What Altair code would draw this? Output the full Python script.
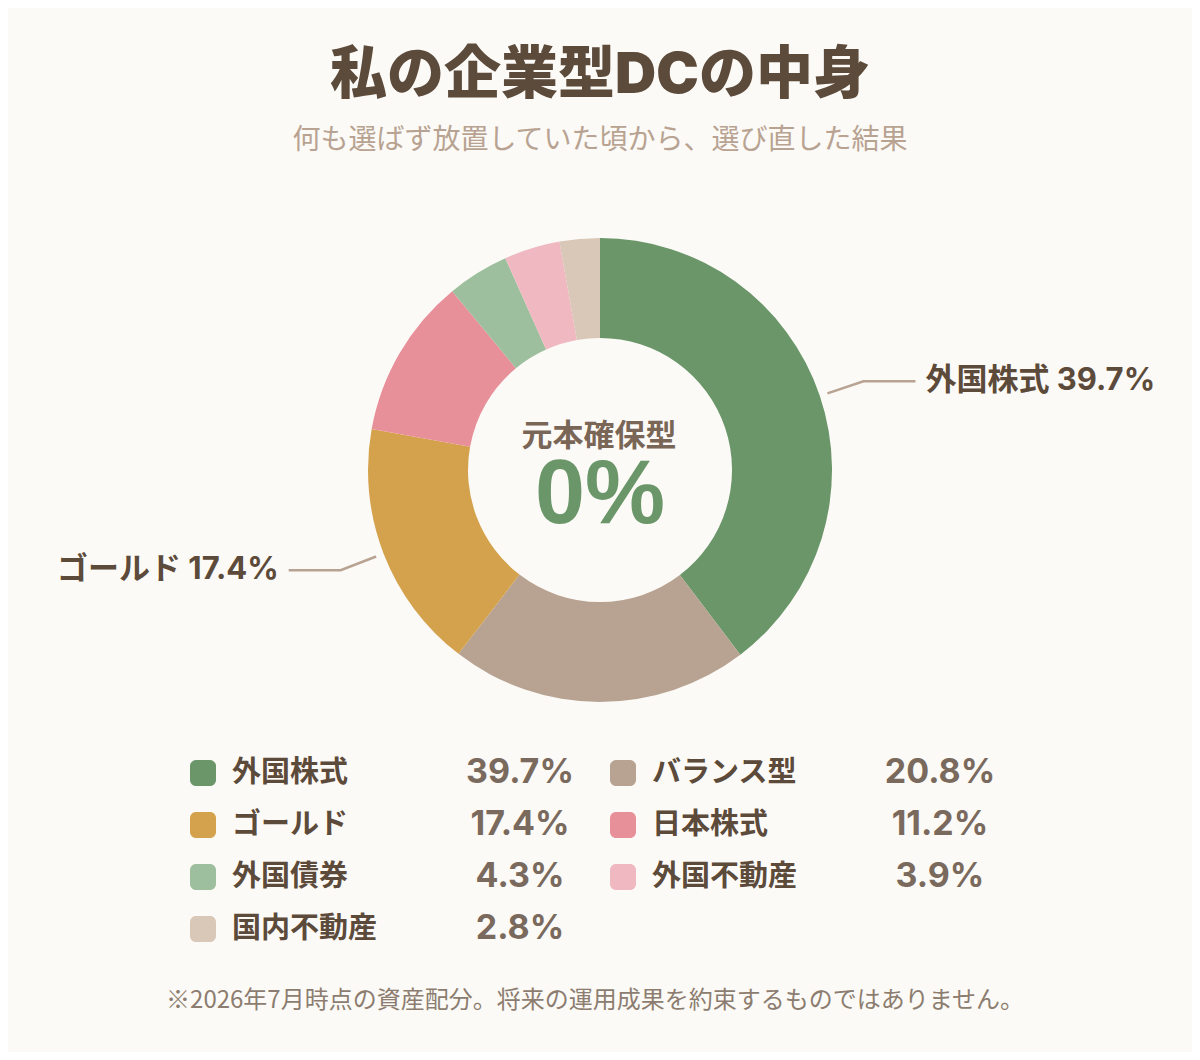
"""Donut chart: asset mix of my corporate DC plan."""
import math

import altair as alt
import pandas as pd

# --- data -------------------------------------------------------------
categories = ["外国株式", "バランス型", "ゴールド", "日本株式", "外国債券", "外国不動産", "国内不動産"]
shares = [39.7, 20.8, 17.4, 11.2, 4.3, 3.9, 2.8]
colors = ["#6A9669", "#B8A392", "#D4A24C", "#E8909A", "#9DBF9D", "#F0B8C0", "#D9C7B7"]
callout_categories = ["外国株式", "ゴールド"]

title_text = "私の企業型DCの中身"
subtitle_text = "何も選ばず放置していた頃から、選び直した結果"
center_label = "元本確保型"
center_value = "0%"
footnote_text = "※2026年7月時点の資産配分。将来の運用成果を約束するものではありません。"

# --- layout / style ---------------------------------------------------
BG = "#FCFAF6"
INK = "#5C4A3A"
VALUE_INK = "#7A6A5E"
MUTED = "#B8A392"
FOOT = "#8C7D70"
FONT = "Inter, Noto Sans CJK JP, sans-serif"
JP = "Noto Sans CJK JP, sans-serif"
SANS = "Liberation Sans, Noto Sans CJK JP, sans-serif"

W, H = 1184, 1044  # page area inside the 8px margin
CX, CY = 600, 470  # donut centre (page px)
R_OUT, R_IN = 232, 132

xs = alt.Scale(domain=[8, 8 + W], nice=False, zero=False)
ys = alt.Scale(domain=[8, 8 + H], nice=False, zero=False, reverse=True)
color_scale = alt.Scale(domain=categories, range=colors)


def X(field):
    return alt.X(field, type="quantitative", scale=xs, axis=None)


def Y(field):
    return alt.Y(field, type="quantitative", scale=ys, axis=None)


def fmt(v):
    return f"{v:.1f}%"


# --- tables built from the arrays --------------------------------------
pie = pd.DataFrame({"category": categories, "share": shares})
pie["order"] = range(len(pie))
pie["cx"] = CX
pie["cy"] = CY

total = sum(shares)
cum = pie["share"].cumsum() - pie["share"]
pie["mid"] = (cum + pie["share"] / 2) / total * 2 * math.pi

line_rows, label_rows = [], []
for _, r in pie[pie["category"].isin(callout_categories)].iterrows():
    sx, sy = math.sin(r["mid"]), -math.cos(r["mid"])
    side = 1 if sx >= 0 else -1
    p0 = (CX + (R_OUT + 8) * sx, CY + (R_OUT + 8) * sy)
    p1 = (CX + (R_OUT + 46) * sx, CY + (R_OUT + 46) * sy)
    p2 = (p1[0] + side * 52, p1[1])
    for i, (px, py) in enumerate([p0, p1, p2]):
        line_rows.append({"category": r["category"], "pt": i, "x": px, "y": py})
    label_rows.append({
        "label": f"{r['category']} {fmt(r['share'])}",
        "x": p1[0] + side * 62,
        "y": p1[1],
        "side": "right" if side > 0 else "left",
    })
leaders = pd.DataFrame(line_rows)
callouts = pd.DataFrame(label_rows)

legend = pie[["category", "share", "order"]].copy()
legend["row"] = legend["order"] // 2
legend["col"] = legend["order"] % 2
legend["sx"] = 190 + legend["col"] * 420
legend["sx2"] = legend["sx"] + 26
legend["sy"] = 773 + legend["row"] * 52
legend["sy0"] = legend["sy"] - 13
legend["sy1"] = legend["sy"] + 13
legend["lx"] = legend["sx"] + 42
legend["vx"] = 520 + legend["col"] * 420
legend["value"] = legend["share"].map(fmt)

texts = pd.DataFrame({
    "text": [title_text, subtitle_text, center_label, center_value, footnote_text],
    "x": [600, 600, 599, 600, 595],
    "y": [76, 141, 446, 523, 1001],
    "kind": ["title", "subtitle", "clabel", "cvalue", "foot"],
})

# --- layers -----------------------------------------------------------
arcs = alt.Chart(pie).mark_arc(outerRadius=R_OUT, innerRadius=R_IN).encode(
    theta=alt.Theta("share:Q", stack=True),
    order=alt.Order("order:Q"),
    color=alt.Color("category:N", scale=color_scale, legend=None),
    x=X("cx"),
    y=Y("cy"),
)

leader_lines = alt.Chart(leaders).mark_line(color=MUTED, strokeWidth=2.5).encode(
    x=X("x"), y=Y("y"), detail="category:N", order="pt:Q"
)

callout_base = alt.Chart(callouts).encode(x=X("x"), y=Y("y"), text="label:N")
callout_right = callout_base.transform_filter("datum.side == 'right'").mark_text(
    align="left", baseline="middle", font=FONT, fontSize=31, fontWeight="bold", color=INK
)
callout_left = callout_base.transform_filter("datum.side == 'left'").mark_text(
    align="right", baseline="middle", font=FONT, fontSize=31, fontWeight="bold", color=INK
)

swatches = alt.Chart(legend).mark_rect(cornerRadius=6).encode(
    x=X("sx"), x2="sx2", y=Y("sy0"), y2="sy1",
    color=alt.Color("category:N", scale=color_scale, legend=None),
)
legend_labels = alt.Chart(legend).mark_text(
    align="left", baseline="middle", font=FONT, fontSize=29, fontWeight="bold", color=INK
).encode(x=X("lx"), y=Y("sy"), text="category:N")
legend_values = alt.Chart(legend).mark_text(
    align="center", baseline="middle", font=FONT, fontSize=34, fontWeight="bold", color=VALUE_INK
).encode(x=X("vx"), y=Y("sy"), text="value:N")


def text_layer(kind, font=FONT, baseline="middle", **style):
    return (
        alt.Chart(texts)
        .transform_filter(f"datum.kind == '{kind}'")
        .mark_text(align="center", baseline=baseline, font=font, **style)
        .encode(x=X("x"), y=Y("y"), text="text:N")
    )


title = text_layer("title", fontSize=57, fontWeight=900, color=INK)
subtitle = text_layer("subtitle", font=JP, fontSize=28, color=MUTED)
c_label = text_layer("clabel", font=JP, baseline="alphabetic", fontSize=31,
                     fontWeight="bold", color="#7A6656")
c_value = text_layer("cvalue", font=SANS, baseline="alphabetic", fontSize=90,
                     fontWeight="bold", color="#6A9669")
foot = text_layer("foot", font=JP, fontSize=24, color=FOOT)

chart = (
    alt.layer(
        arcs, leader_lines, callout_right, callout_left,
        swatches, legend_labels, legend_values,
        title, subtitle, c_label, c_value, foot,
    )
    .properties(width=W, height=H, background=BG, padding=0,
                autosize=alt.AutoSizeParams(type="none"))
    .configure_view(stroke=None)
)

chart.save("out.html", embed_options={"renderer": "svg", "actions": False})
